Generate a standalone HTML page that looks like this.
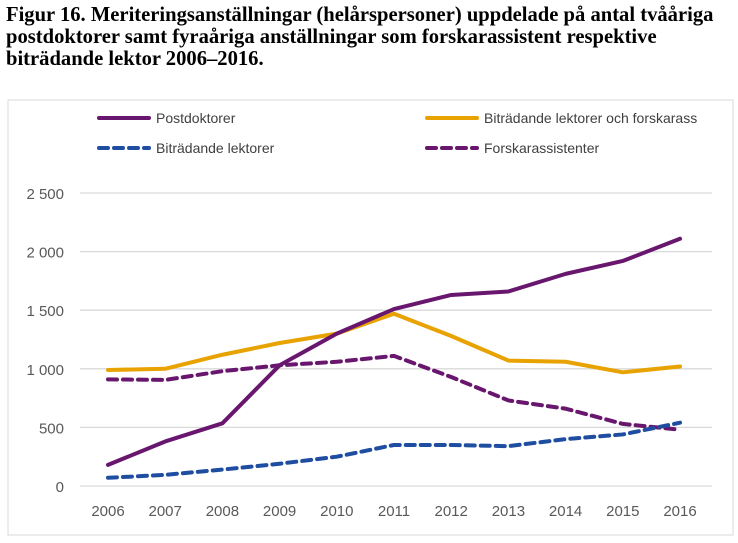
<!DOCTYPE html>
<html><head><meta charset="utf-8"><style>
body{margin:0;background:#fff;width:738px;height:543px;overflow:hidden}
#title{position:absolute;left:6px;top:4px;font:bold 20.6px/22px "Liberation Serif",serif;color:#000;white-space:nowrap}
</style></head><body>
<div id="title">Figur 16. Meriteringsanställningar (helårspersoner) uppdelade på antal tvååriga<br>postdoktorer samt fyraåriga anställningar som forskarassistent respektive<br>biträdande lektor 2006–2016.</div>
<svg id="chart" width="738" height="543" style="position:absolute;left:0;top:0" font-family="Liberation Sans, sans-serif"></svg>
<script>
const years=["2006","2007","2008","2009","2010","2011","2012","2013","2014","2015","2016"];
const postdok=[180,380,535,1030,1300,1510,1630,1660,1810,1920,2110];
const bitrForsk=[990,1000,1120,1220,1300,1470,1280,1070,1060,970,1020];
const bitrLekt=[70,95,140,190,250,350,350,340,400,440,540];
const forskAss=[910,905,980,1030,1060,1110,930,730,660,530,480];
const yTicks=[0,500,1000,1500,2000,2500];
const yLabels=["0","500","1 000","1 500","2 000","2 500"];
const NS="http://www.w3.org/2000/svg",svg=document.getElementById('chart');
const x=i=>108+i*(680-108)/10, y=v=>486-v*(486-193)/2500;
function mk(t,a){const e=document.createElementNS(NS,t);for(const k in a)e.setAttribute(k,a[k]);svg.appendChild(e);return e;}
const box=mk('rect',{x:8,y:100,width:725,height:435,fill:'none',stroke:'#d9d9d9','stroke-width':1});


yTicks.forEach((v,i)=>{
 const g=mk('line',{x1:80,x2:712,y1:y(v),y2:y(v),stroke:'#d9d9d9','stroke-width':1.3});
 
 
 const t=mk('text',{x:64,y:y(v)+6,'text-anchor':'end','font-size':15,fill:'#595959'});t.textContent=yLabels[i];
 
 
});
years.forEach((yr,i)=>{
 const t=mk('text',{x:x(i),y:516,'text-anchor':'middle','font-size':15,fill:'#595959'});t.textContent=yr;
 
 
});
const series=[
 {d:bitrForsk,c:'#e8a202',dash:null,n:'Biträdande lektorer och forskarass',lx:427,ly:118},
 {d:forskAss,c:'#69176e',dash:'9 6',n:'Forskarassistenter',lx:427,ly:148},
 {d:bitrLekt,c:'#1f4ea1',dash:'9 6',n:'Biträdande lektorer',lx:99,ly:148},
 {d:postdok,c:'#69176e',dash:null,n:'Postdoktorer',lx:99,ly:118}
];
series.forEach(s=>{
 const p=mk('polyline',{points:s.d.map((v,i)=>x(i)+','+y(v)).join(' '),fill:'none',stroke:s.c,'stroke-width':4,'stroke-linejoin':'round','stroke-linecap':'round'});
 if(s.dash)p.setAttribute('stroke-dasharray',s.dash);
 
 
 const l=mk('line',{x1:s.lx,x2:s.lx+50,y1:s.ly,y2:s.ly,stroke:s.c,'stroke-width':4,'stroke-linecap':'round'});
 if(s.dash)l.setAttribute('stroke-dasharray',s.dash);
 
 
 const t=mk('text',{x:s.lx+57,y:s.ly+5,'font-size':14,fill:'#404040'});t.textContent=s.n;
 
 
});
</script>
</body></html>
